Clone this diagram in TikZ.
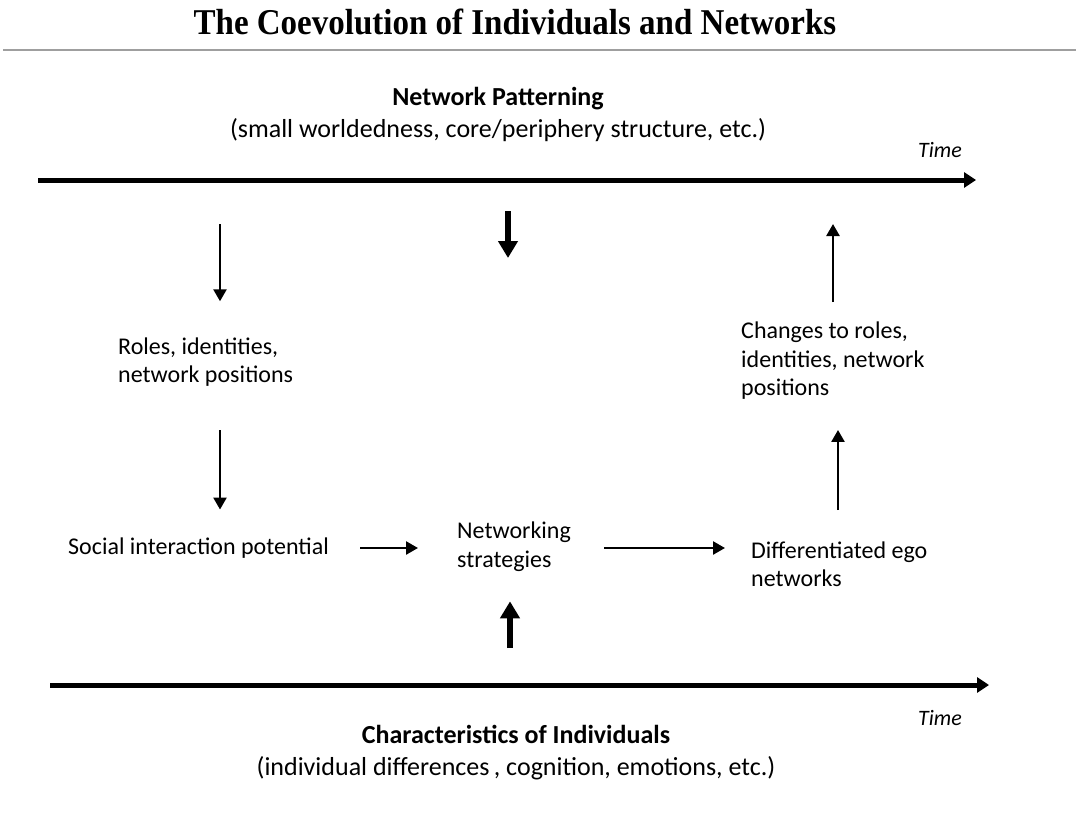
\documentclass[tikz,border=0pt]{standalone}
\usepackage{fontspec}
\setmainfont{Carlito}
\newfontfamily\titlefont{Liberation Serif}
\usetikzlibrary{arrows.meta}
\tikzset{
  txt/.style={inner sep=0pt, align=left, font=\fontsize{24}{28.5}\selectfont},
  ctxt/.style={inner sep=0pt, align=center, font=\fontsize{26}{32}\selectfont},
  timelbl/.style={inner sep=0pt, font=\fontsize{22}{24}\selectfont\itshape},
  thinarr/.style={line width=2.5pt, -{Triangle[width=13pt,length=12pt]}},
  thickarr/.style={line width=6pt, -{Triangle[width=19pt,length=17pt]}},
  timearr/.style={line width=5pt, -{Triangle[width=15pt,length=12pt]}},
}
\begin{document}
\begin{tikzpicture}[x=1pt,y=-1pt]
\useasboundingbox[fill=white] (0,0) rectangle (1076,816);
% title
\node[inner sep=0pt, yscale=1.1, font=\titlefont\bfseries\fontsize{33}{36}\selectfont] (title) at (515,22) {The Coevolution of Individuals and Networks};
\coordinate (rl) at (3,50);
\coordinate (rr) at (1076,50);
\draw[line width=2.5pt, gray!75] (rl) -- (rr);
% top
\node[ctxt] (np) at (498,114) {\textbf{Network Patterning}\\(small worldedness, core/periphery structure, etc.)};
\node[timelbl] (time1) at (940,150) {Time};
\coordinate (t1s) at (38,180);
\coordinate (t1e) at (976,180);
\draw[timearr] (t1s) -- (t1e);
% left column
\node[txt, anchor=west] (roles) at (118,362) {Roles, identities,\\network positions};
\coordinate (a1s) at (220,224);
\draw[thinarr, shorten >=36pt] (a1s) -- (a1s |- roles.north);
\node[txt, anchor=west] (social) at (68,548) {Social interaction potential};
\coordinate (a2s) at (220,430);
\draw[thinarr, shorten >=28pt] (a2s) -- (a2s |- social.north);
% middle
\node[txt, anchor=west] (strat) at (457,546.5) {Networking\\strategies};
\coordinate (a3s) at (508,211);
\coordinate (a3e) at (508,258);
\draw[thickarr] (a3s) -- (a3e);
\draw[thinarr, shorten <=31pt, shorten >=39pt] (social.east) -- (strat.west |- social.east);
\coordinate (a4s) at (510,648);
\draw[thickarr, shorten >=30pt] (a4s) -- (a4s |- strat.south);
% right
\node[txt, anchor=west] (diff) at (751,564) {Differentiated ego\\networks};
\draw[thinarr, shorten <=33pt, shorten >=26pt] (strat.east |- social.east) -- (diff.west |- social.east);
\node[txt, anchor=west] (changes) at (741,361) {Changes to roles,\\identities, network\\positions};
\coordinate (a5s) at (838,510);
\draw[thinarr, shorten >=30pt] (a5s) -- (a5s |- changes.south);
\coordinate (a6e) at (833,224);
\draw[thinarr, shorten <=20pt] (a6e |- changes.north) -- (a6e);
% bottom
\coordinate (t2s) at (50,685);
\coordinate (t2e) at (989,685);
\draw[timearr] (t2s) -- (t2e);
\node[timelbl] (time2) at (940,718) {Time};
\node[ctxt] (ci) at (516,753) {\textbf{Characteristics of Individuals}\\(individual differences\,, cognition, emotions, etc.)};
\end{tikzpicture}
\end{document}
